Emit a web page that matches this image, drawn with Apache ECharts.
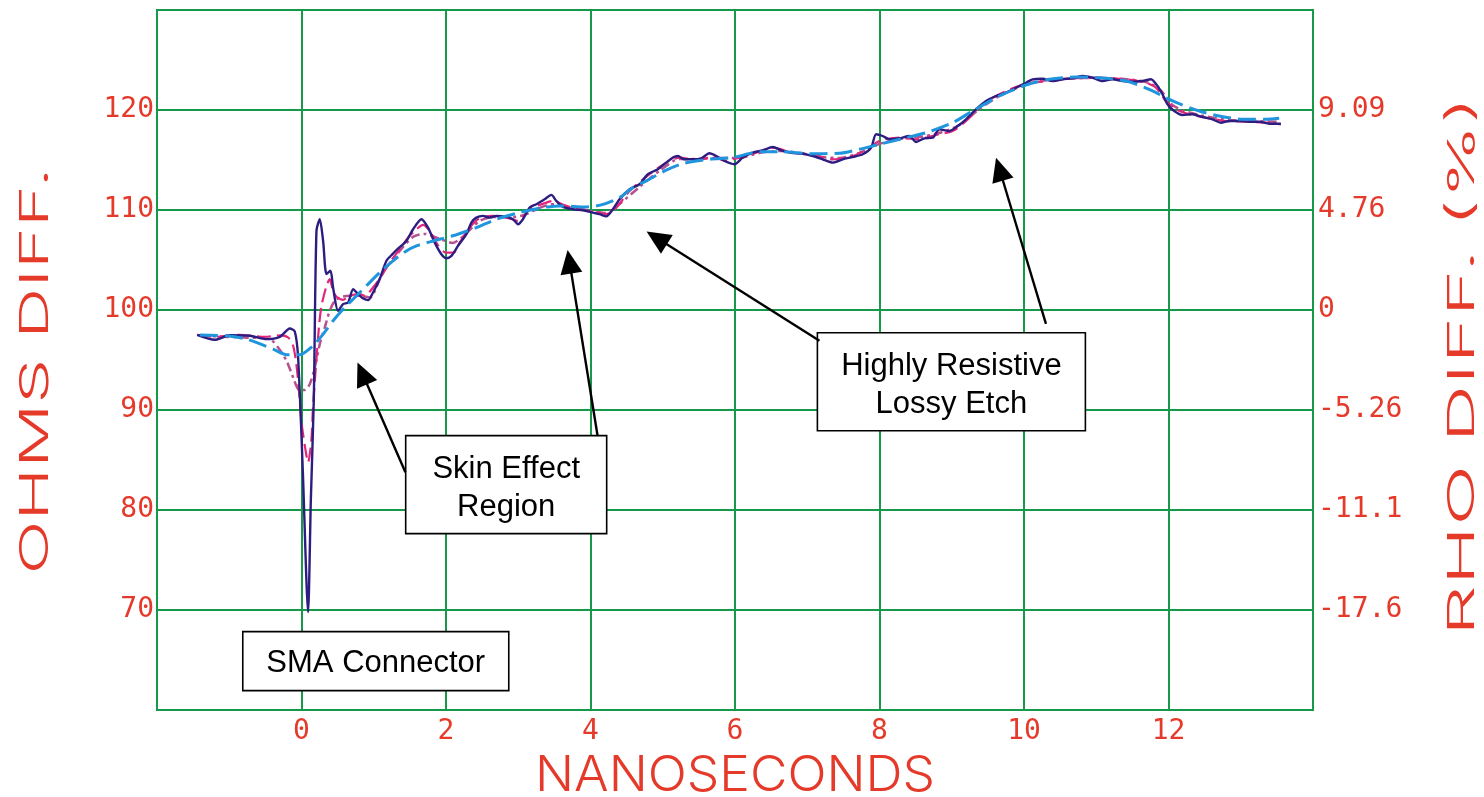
<!DOCTYPE html>
<html><head><meta charset="utf-8">
<script src="https://cdn.jsdelivr.net/npm/echarts@6/dist/echarts.min.js"></script>
<style>html,body{margin:0;padding:0;background:#fff}#c{width:1484px;height:797px}</style>
</head><body><div id="c"></div>
<script>
// ---- ticks ----
const xTicks = [0, 2, 4, 6, 8, 10, 12];
const ohmTicks = [70, 80, 90, 100, 110, 120];
const rhoLabels = ['-17.6', '-11.1', '-5.26', '0', '4.76', '9.09'];

// ---- series values [ns, ohms] ----
const navy = [[-1.444,97.52],[-1.199,97.02],[-0.992,97.47],[-0.715,97.42],[-0.484,97.09],[-0.300,97.32],[-0.162,98.15],[-0.093,97.85],[-0.047,95.25],[0.018,83.94],[0.091,69.78],[0.129,80.94],[0.170,90.93],[0.207,107.91],[0.253,109.08],[0.299,106.91],[0.346,103.59],[0.401,103.92],[0.437,102.25],[0.506,99.92],[0.575,100.59],[0.645,100.75],[0.714,102.09],[0.783,101.59],[0.862,101.12],[0.921,100.99],[0.990,101.75],[1.083,103.12],[1.176,104.92],[1.263,105.61],[1.332,106.11],[1.452,106.91],[1.544,108.08],[1.660,109.08],[1.751,108.24],[1.844,106.74],[1.936,105.58],[2.006,105.18],[2.075,105.41],[2.166,106.41],[2.282,107.58],[2.351,108.74],[2.420,109.24],[2.512,109.41],[2.604,109.24],[2.697,109.41],[2.835,109.31],[2.927,109.08],[2.996,108.58],[3.065,109.08],[3.158,110.24],[3.250,110.58],[3.365,111.08],[3.458,111.51],[3.527,110.91],[3.618,110.31],[3.757,110.08],[3.895,109.98],[4.033,109.74],[4.126,109.58],[4.219,109.36],[4.310,110.08],[4.402,111.08],[4.541,112.08],[4.679,112.58],[4.794,113.58],[4.932,114.08],[5.048,114.74],[5.140,115.24],[5.209,115.40],[5.301,115.07],[5.416,115.07],[5.533,115.17],[5.647,115.67],[5.740,115.40],[5.855,114.90],[5.993,114.58],[6.108,115.24],[6.246,115.73],[6.385,115.97],[6.523,116.30],[6.639,115.97],[6.777,115.73],[6.938,115.63],[7.076,115.40],[7.214,115.07],[7.353,114.74],[7.491,115.07],[7.629,115.30],[7.768,115.57],[7.884,116.23],[7.953,117.57],[8.044,117.40],[8.137,117.07],[8.275,117.17],[8.413,117.40],[8.506,116.80],[8.621,117.17],[8.736,117.23],[8.829,118.07],[8.967,117.90],[9.082,118.40],[9.198,119.07],[9.336,120.07],[9.474,120.90],[9.613,121.40],[9.751,121.73],[9.889,122.23],[10.028,122.73],[10.119,123.07],[10.257,123.13],[10.396,122.90],[10.534,123.07],[10.672,123.17],[10.811,123.40],[10.949,123.23],[11.087,122.90],[11.225,123.07],[11.364,122.90],[11.502,122.83],[11.640,122.90],[11.757,123.07],[11.848,122.40],[11.917,121.57],[11.986,120.57],[12.079,119.90],[12.194,119.50],[12.332,119.57],[12.470,119.30],[12.609,119.07],[12.725,118.73],[12.840,118.90],[12.978,118.90],[13.116,118.83],[13.255,118.83],[13.393,118.63],[13.555,118.63]];

const magenta = [[-1.444,97.52],[-1.199,97.32],[-0.854,97.52],[-0.508,97.32],[-0.300,97.47],[-0.185,97.25],[-0.116,96.42],[-0.069,94.43],[-0.033,91.76],[0.0,88.76],[0.046,86.43],[0.091,84.77],[0.138,87.10],[0.160,90.43],[0.207,95.09],[0.243,98.42],[0.277,100.42],[0.346,102.42],[0.391,103.09],[0.437,101.92],[0.484,101.32],[0.575,101.02],[0.668,101.42],[0.806,101.59],[0.876,101.42],[0.990,102.25],[1.107,103.42],[1.221,104.75],[1.360,106.08],[1.474,107.24],[1.567,107.91],[1.682,108.51],[1.775,107.91],[1.885,106.51],[1.996,105.74],[2.107,105.74],[2.189,106.74],[2.328,108.24],[2.466,109.18],[2.650,109.41],[2.835,109.24],[2.996,108.91],[3.158,110.08],[3.389,110.74],[3.480,110.91],[3.665,110.41],[3.849,110.08],[4.033,109.84],[4.219,109.58],[4.357,110.24],[4.541,111.91],[4.818,113.58],[5.048,114.74],[5.232,115.24],[5.463,114.98],[5.693,115.30],[5.878,114.91],[6.062,115.24],[6.293,115.73],[6.523,116.23],[6.799,115.73],[7.076,115.57],[7.353,115.07],[7.629,115.40],[7.860,116.23],[7.998,116.90],[8.275,117.23],[8.506,117.07],[8.783,117.50],[9.012,117.90],[9.198,118.90],[9.382,120.23],[9.566,121.23],[9.842,122.17],[10.119,122.73],[10.350,122.90],[10.672,123.17],[11.041,123.23],[11.411,123.07],[11.687,122.73],[11.826,122.23],[11.964,120.90],[12.102,120.07],[12.286,119.57],[12.563,119.17],[12.794,118.90],[13.071,118.83],[13.347,118.73],[13.555,118.57]];

const mauve = [[-1.407,97.42],[-0.808,97.25],[-0.438,97.09],[-0.324,96.25],[-0.207,94.93],[-0.116,93.26],[-0.047,92.10],[0.046,92.00],[0.115,92.60],[0.184,94.26],[0.253,96.59],[0.322,98.25],[0.391,99.92],[0.461,100.92],[0.553,101.32],[0.668,101.42],[0.806,101.42],[0.945,101.25],[1.124,103.72],[1.360,105.91],[1.544,107.31],[1.705,107.61],[1.913,107.11],[2.093,106.71],[2.259,107.51],[2.466,108.91],[2.674,109.31],[2.881,109.26],[3.088,109.51],[3.296,110.21],[3.503,110.61],[3.711,110.31],[3.988,109.91],[4.209,109.71],[4.402,110.61],[4.679,112.31],[4.956,113.91],[5.232,115.11],[5.509,115.11],[5.786,115.21],[6.062,115.21],[6.339,115.71],[6.615,115.91],[6.892,115.71],[7.169,115.31],[7.446,115.21],[7.722,115.71],[7.998,116.61],[8.275,117.10],[8.551,117.30],[8.828,117.70],[9.105,118.50],[9.382,120.10],[9.658,121.40],[9.935,122.30],[10.212,122.90],[10.627,123.15],[11.041,123.20],[11.456,123.05],[11.733,122.70],[11.899,121.90],[12.037,120.60],[12.217,119.90],[12.494,119.40],[12.840,119.00],[13.186,118.90],[13.546,118.80]];

const blue = [[-1.407,97.49],[-1.037,97.42],[-0.761,97.09],[-0.393,96.09],[-0.207,95.52],[-0.024,95.52],[0.160,96.42],[0.299,97.59],[0.437,98.92],[0.599,100.25],[0.761,101.42],[0.899,102.42],[1.083,103.75],[1.267,104.92],[1.452,105.91],[1.591,106.41],[1.775,106.81],[2.166,107.58],[2.420,108.24],[2.697,109.08],[3.019,109.74],[3.342,110.24],[3.573,110.41],[3.942,110.31],[4.149,110.51],[4.402,111.24],[4.587,112.24],[4.772,112.91],[5.048,113.98],[5.278,114.64],[5.647,115.07],[5.970,115.24],[6.339,115.83],[6.661,115.83],[7.030,115.63],[7.445,115.67],[7.722,116.07],[7.998,116.57],[8.368,117.23],[8.645,117.73],[9.012,118.73],[9.289,119.90],[9.658,121.40],[10.028,122.50],[10.350,123.07],[10.719,123.30],[11.041,123.23],[11.411,122.90],[11.733,122.07],[11.964,121.23],[12.148,120.63],[12.425,119.90],[12.701,119.40],[13.024,119.07],[13.347,119.07],[13.532,119.17]];

// ---- annotations (data coordinates) ----
const boxTexts = ['SMA Connector', 'Skin Effect\nRegion', 'Highly Resistive\nLossy Etch'];
const boxCenters = [[1.028, 64.89], [2.833, 82.54], [8.995, 92.83]];
const arrowFrom = [[1.438, 83.77], [4.098, 87.43], [7.169, 96.92], [10.304, 98.62]];
const arrowTo   = [[0.775, 94.76], [3.683, 106.01], [4.776, 107.84], [9.613, 115.23]];

const GREEN = '#17994a';
const RED = '#e5392a';
const TICKFONT = 'DejaVu Sans Mono';
const chart = echarts.init(document.getElementById('c'), null, {renderer: 'canvas'});

function lineSeries(name, data, color, width, dash, z) {
  return {
    name, type: 'line', data, showSymbol: false, smooth: 0.25, z,
    lineStyle: {color, width, type: dash, cap: 'butt'},
    animation: false
  };
}

chart.setOption({
  animation: false,
  backgroundColor: '#fff',
  grid: {left: 157, right: 171, top: 10, bottom: 87, show: true, borderColor: GREEN, borderWidth: 2, containLabel: false},
  xAxis: {
    type: 'value', min: -2, max: 14, interval: 2,
    axisLine: {show: true, lineStyle: {color: GREEN, width: 2}},
    axisTick: {show: false},
    splitLine: {show: true, lineStyle: {color: GREEN, width: 2}},
    axisLabel: {
      color: RED, fontFamily: TICKFONT, fontSize: 28, margin: 8,
      formatter: v => xTicks.indexOf(v) >= 0 ? String(v) : ''
    }
  },
  yAxis: [{
    type: 'value', min: 60, max: 130, interval: 10, position: 'left',
    axisLine: {show: true, lineStyle: {color: GREEN, width: 2}},
    axisTick: {show: true, length: 5, lineStyle: {color: GREEN, width: 2}, customValues: ohmTicks},
    splitLine: {show: true, lineStyle: {color: GREEN, width: 2}},
    axisLabel: {
      color: RED, fontFamily: TICKFONT, fontSize: 28, margin: 3,
      formatter: v => ohmTicks.indexOf(v) >= 0 ? String(v) : ''
    }
  }, {
    type: 'value', min: 60, max: 130, interval: 10, position: 'right',
    axisLine: {show: true, lineStyle: {color: GREEN, width: 2}},
    axisTick: {show: false},
    splitLine: {show: false},
    axisLabel: {
      color: RED, fontFamily: TICKFONT, fontSize: 28, margin: 5, align: 'left',
      formatter: v => { const i = ohmTicks.indexOf(v); return i >= 0 ? rhoLabels[i] : ''; }
    }
  }],
  series: [
    lineSeries('mauve', mauve, '#b5518f', 2.5, [9, 4, 3, 4], 2),
    lineSeries('magenta', magenta, '#e2267b', 2.2, [14, 6], 3),
    lineSeries('navy', navy, '#2e1d80', 2.4, 'solid', 4),
    lineSeries('blue', blue, '#1f95de', 3, [18, 7], 5)
  ]
});

// ---- overlay: titles, boxes, arrows ----
const mctx = document.createElement('canvas').getContext('2d');
const TFONT = '300 40px Inter, "DejaVu Sans", sans-serif';
function title(str, cx, cy, len, height, rot) {
  mctx.font = TFONT;
  const w = mctx.measureText(str).width;
  const capH = mctx.measureText('H').actualBoundingBoxAscent || 29;
  return {
    type: 'text', x: cx, y: cy, rotation: rot,
    scaleX: len / w, scaleY: height / capH, z: 50,
    style: {text: str, font: TFONT, fill: RED, align: 'center', verticalAlign: 'middle', textAlign: 'center', textVerticalAlign: 'middle'}
  };
}

function drawOverlay() {
  const els = [];
  els.push(title('OHMS DIFF.', 36, 371, 407, 29, Math.PI / 2));
  els.push(title('RHO DIFF. (%)', 1463, 366, 540, 27, Math.PI / 2));
  els.push(title('NANOSECONDS', 735, 776, 400, 36, 0));
  const sizes = [[266, 59], [201, 98], [268, 98]];
  boxCenters.forEach((c, i) => {
    const p = chart.convertToPixel({gridIndex: 0}, c);
    const w = sizes[i][0], h = sizes[i][1];
    const multi = boxTexts[i].indexOf('\n') >= 0;
    els.push({type: 'rect', z: 60, shape: {x: p[0] - w / 2, y: p[1] - h / 2, width: w, height: h},
      style: {fill: '#fff', stroke: '#000', lineWidth: 1.6}});
    els.push({type: 'text', z: 61, x: p[0], y: p[1] + (multi ? 4 : 2),
      style: {text: boxTexts[i], font: '31px "Liberation Sans", Arial, sans-serif', fill: '#000', lineHeight: 38,
        align: 'center', verticalAlign: 'middle', textAlign: 'center', textVerticalAlign: 'middle'}});
  });
  arrowFrom.forEach((f, i) => {
    const a = chart.convertToPixel({gridIndex: 0}, f);
    const b = chart.convertToPixel({gridIndex: 0}, arrowTo[i]);
    const dx = b[0] - a[0], dy = b[1] - a[1], d = Math.hypot(dx, dy);
    const ux = dx / d, uy = dy / d, nx = -uy, ny = ux;
    const L = 24, W = 11;
    const bx = b[0] - ux * L, by = b[1] - uy * L;
    els.push({type: 'line', z: 62, shape: {x1: a[0], y1: a[1], x2: bx + ux * 2, y2: by + uy * 2},
      style: {stroke: '#000', lineWidth: 2.4}});
    els.push({type: 'polygon', z: 62, shape: {points: [[b[0], b[1]], [bx + nx * W, by + ny * W], [bx - nx * W, by - ny * W]]},
      style: {fill: '#000'}});
  });
  chart.setOption({graphic: els});
}
drawOverlay();
</script>
</body></html>
